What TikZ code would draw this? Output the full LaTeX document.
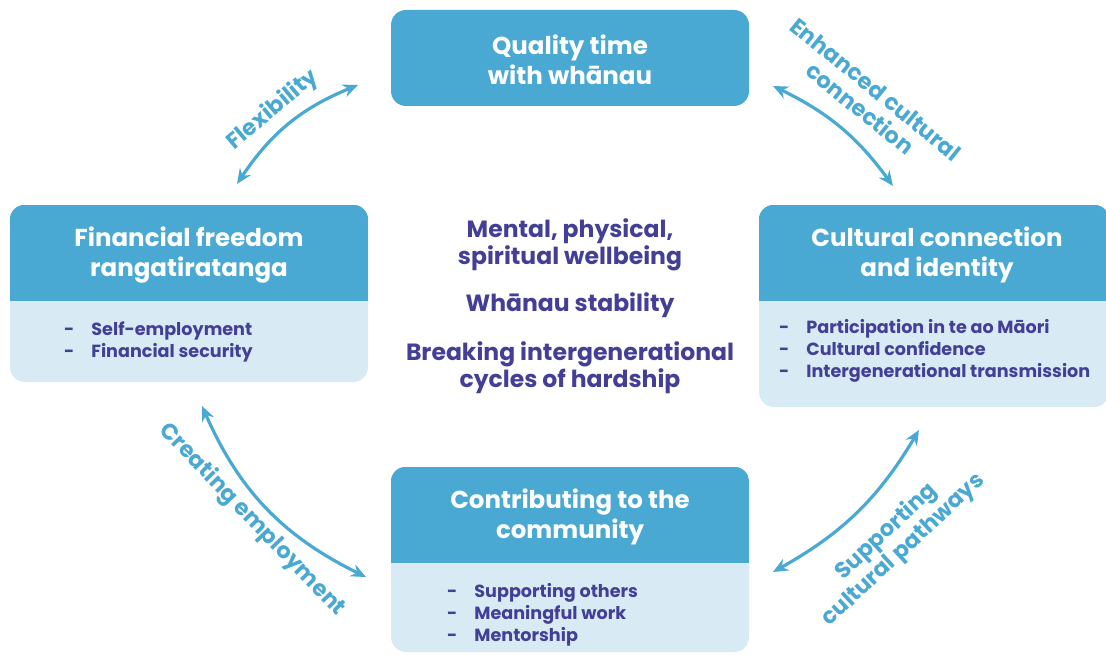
\documentclass[tikz,border=0pt]{standalone}
\usepackage{fontspec}
\setmainfont{Poppins}
\usetikzlibrary{arrows.meta}
\definecolor{hdrblue}{HTML}{4AA9D3}
\definecolor{paleblue}{HTML}{D8EBF5}
\definecolor{inkpurple}{HTML}{433F97}
\tikzset{
  panel/.style={fill=paleblue, rounded corners=15pt, inner sep=0pt, draw=none},
  titletext/.style={text=white, font=\bfseries\fontsize{24.5}{29.5}\selectfont, align=center},
  listtext/.style={text=inkpurple, font=\bfseries\fontsize{17.6}{22}\selectfont, anchor=north west, inner sep=0pt},
  hubtext/.style={text=inkpurple, font=\bfseries\fontsize{23.5}{27}\selectfont, align=center},
  linktext/.style={text=hdrblue, font=\bfseries\fontsize{22.5}{25}\selectfont, align=center},
  link/.style={draw=hdrblue, line width=3.2pt, {Stealth[length=15pt,width=13pt,inset=5pt]}-{Stealth[length=15pt,width=13pt,inset=5pt]}},
}
\begin{document}
\begin{tikzpicture}[x=1pt,y=-1pt]
\useasboundingbox (0,0) rectangle (1106,655);
\clip (0,0) rectangle (1106,655);

% --- top box: quality time ---
\node[panel, fill=hdrblue, minimum width=358pt, minimum height=96pt] (quality) at (570,58) {};
\node[titletext] (qualityt) at (570,60) {Quality time\\with whānau};

% --- left box: financial freedom ---
\node[panel, minimum width=358pt, minimum height=177pt] (finance) at (189,293.5) {};
\begin{scope}
  \clip[rounded corners=15pt] (finance.south west) rectangle (finance.north east);
  \fill[hdrblue] (finance.north west) rectangle (368,301);
\end{scope}
\node[titletext] (financet) at (189,255) {Financial freedom\\rangatiratanga};
\node[listtext] (financel) at (64,320) {\begin{tabular}{@{}l@{\hspace{17pt}}l@{}}-&Self-employment\\-&Financial security\end{tabular}};

% --- right box: cultural connection ---
\node[panel, minimum width=350pt, minimum height=202pt] (culture) at (934,306) {};
\begin{scope}
  \clip[rounded corners=15pt] (culture.south west) rectangle (culture.north east);
  \fill[hdrblue] (culture.north west) rectangle (1109,301);
\end{scope}
\node[titletext] (culturet) at (937,255) {Cultural connection\\and identity};
\node[listtext] (culturel) at (779,318) {\begin{tabular}{@{}l@{\hspace{17pt}}l@{}}-&Participation in te ao Māori\\-&Cultural confidence\\-&Intergenerational transmission\end{tabular}};

% --- bottom box: community ---
\node[panel, minimum width=358pt, minimum height=185pt] (community) at (570,559.5) {};
\begin{scope}
  \clip[rounded corners=15pt] (community.south west) rectangle (community.north east);
  \fill[hdrblue] (community.north west) rectangle (749,563);
\end{scope}
\node[titletext] (communityt) at (570,517) {Contributing to the\\community};
\node[listtext] (communityl) at (447,582) {\begin{tabular}{@{}l@{\hspace{17pt}}l@{}}-&Supporting others\\-&Meaningful work\\-&Mentorship\end{tabular}};

% --- central outcomes ---
\node[hubtext] (hub) at (570,306) {Mental, physical,\\spiritual wellbeing\\[20pt]Whānau stability\\[22pt]Breaking intergenerational\\cycles of hardship};

% --- connecting arrows ---
\coordinate (flexA) at (237,184);
\coordinate (flexB) at (358,85);
\coordinate (enhA) at (773,86);
\coordinate (enhB) at (893,186);
\coordinate (supA) at (773,572);
\coordinate (supB) at (919,430);
\coordinate (creA) at (202,406);
\coordinate (creB) at (366,577);

\draw[link] (flexA) to[bend left=17] (flexB);
\draw[link] (enhA) to[bend left=14] (enhB);
\draw[link] (supA) to[bend right=15] (supB);
\draw[link] (creA) to[bend right=20] (creB);

\node[linktext, rotate=40] (flext) at (273,110) {Flexibility};
\node[linktext, rotate=-39] (enht) at (868,99) {Enhanced cultural\\connection};
\node[linktext, rotate=43] (supt) at (895,541) {Supporting\\cultural pathways};
\node[linktext, rotate=-46] (cret) at (252,520) {Creating employment};
\end{tikzpicture}
\end{document}
